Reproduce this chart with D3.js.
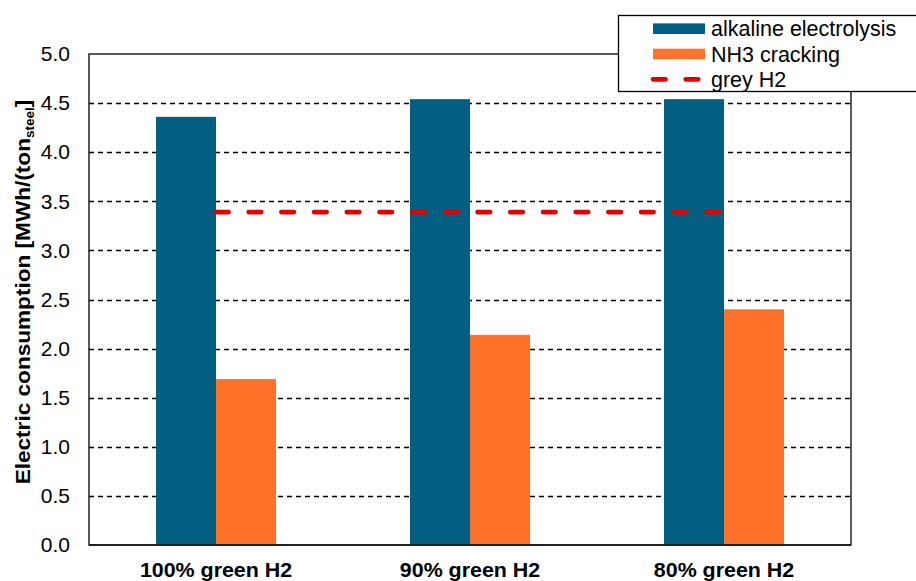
<!DOCTYPE html>
<html>
<head>
<meta charset="utf-8">
<script src="https://cdn.jsdelivr.net/npm/d3@7"></script>
<style>
  html, body { margin: 0; padding: 0; background: #fff; }
  svg { display: block; font-family: Arial, "Liberation Sans", sans-serif; }
</style>
</head>
<body>
<div id="chart"></div>
<script>
const categories = ['100% green H2', '90% green H2', '80% green H2'];
const alkalineValues = [4.36, 4.54, 4.54];
const crackingValues = [1.69, 2.14, 2.40];
const greyH2Values = [3.39, 3.39, 3.39];
const yTicks = [0, 0.5, 1, 1.5, 2, 2.5, 3, 3.5, 4, 4.5, 5];

const colors = { alkaline: '#035F82', cracking: '#FF7229', grey: '#E00000' };
const FONT = 'Arial, "Liberation Sans", sans-serif';

const width = 916;
const height = 581;
const margin = { top: 54, right: 65, bottom: 36, left: 89 };
const innerW = width - margin.left - margin.right;
const innerH = height - margin.top - margin.bottom;

const svg = d3.select('#chart')
  .append('svg')
  .attr('width', width)
  .attr('height', height);

const g = svg.append('g')
  .attr('transform', `translate(${margin.left},${margin.top})`);

const x = d3.scaleBand()
  .domain(categories)
  .range([0, innerW]);

const barW = 60;
const center = (c) => x(c) + x.bandwidth() / 2;

const y = d3.scaleLinear()
  .domain([0, 5])
  .range([innerH, 0]);

// dashed grid lines
g.append('g')
  .selectAll('line')
  .data(yTicks.filter((d) => d > 0 && d < 5))
  .enter()
  .append('line')
  .attr('x1', 0)
  .attr('x2', innerW)
  .attr('y1', (d) => Math.round(y(d)) + 0.5)
  .attr('y2', (d) => Math.round(y(d)) + 0.5)
  .attr('stroke', '#000')
  .attr('stroke-width', 1.3)
  .attr('stroke-dasharray', '5,4');

// bars
g.append('g')
  .selectAll('rect')
  .data(categories)
  .enter()
  .append('rect')
  .attr('x', (d) => center(d) - barW)
  .attr('y', (d, i) => y(alkalineValues[i]))
  .attr('width', barW)
  .attr('height', (d, i) => innerH - y(alkalineValues[i]))
  .attr('fill', colors.alkaline);

g.append('g')
  .selectAll('rect')
  .data(categories)
  .enter()
  .append('rect')
  .attr('x', (d) => center(d))
  .attr('y', (d, i) => y(crackingValues[i]))
  .attr('width', barW)
  .attr('height', (d, i) => innerH - y(crackingValues[i]))
  .attr('fill', colors.cracking);

// grey H2 dashed line
const line = d3.line()
  .x((d, i) => center(categories[i]))
  .y((d) => y(d));

g.append('path')
  .datum(greyH2Values)
  .attr('d', line)
  .attr('fill', 'none')
  .attr('stroke', colors.grey)
  .attr('stroke-width', 4.7)
  .attr('stroke-linecap', 'round')
  .attr('stroke-dasharray', '12.5,20.2');

// frame
g.append('rect')
  .attr('x', 0)
  .attr('y', 0)
  .attr('width', innerW)
  .attr('height', innerH)
  .attr('fill', 'none')
  .attr('stroke', '#000')
  .attr('stroke-width', 1.3);

g.append('line')
  .attr('x1', 0)
  .attr('x2', innerW)
  .attr('y1', innerH)
  .attr('y2', innerH)
  .attr('stroke', '#222')
  .attr('stroke-width', 2);

// y axis
const yAxis = g.append('g')
  .call(d3.axisLeft(y).tickValues(yTicks).tickFormat(d3.format('.1f')).tickSize(0).tickPadding(19));
yAxis.select('.domain').remove();
yAxis.selectAll('text')
  .attr('font-size', 21)
  .attr('font-family', FONT)
  .attr('fill', '#000');

// x axis labels
const xAxis = g.append('g')
  .attr('transform', `translate(0,${innerH})`)
  .call(d3.axisBottom(x).tickSize(0).tickPadding(0));
xAxis.select('.domain').remove();
xAxis.selectAll('text')
  .attr('dy', null)
  .attr('y', 32)
  .attr('font-size', 20)
  .attr('font-weight', 'bold')
  .attr('font-family', FONT)
  .attr('fill', '#000')
  .each(function () {
    const len = this.getComputedTextLength();
    d3.select(this)
      .attr('textLength', len * 1.07)
      .attr('lengthAdjust', 'spacingAndGlyphs');
  });

// y axis title
const title = svg.append('text')
  .attr('font-size', 20)
  .attr('font-weight', 'bold')
  .attr('font-family', FONT)
  .attr('text-anchor', 'middle')
  .attr('fill', '#000');
title.append('tspan').text('Electric consumption [MWh/(ton');
title.append('tspan').attr('font-size', 12).attr('dy', 4).text('steel');
title.append('tspan').attr('dy', -4).text(']');
const titleLen = title.node().getComputedTextLength();
title.attr('transform', `translate(30,292) rotate(-90) scale(${385 / titleLen},1)`);

// legend
const legend = svg.append('g').attr('transform', 'translate(618,15)');
legend.append('rect')
  .attr('x', 0.5)
  .attr('y', 0.5)
  .attr('width', 300)
  .attr('height', 76)
  .attr('fill', '#fff')
  .attr('stroke', '#000')
  .attr('stroke-width', 1.3);

const legendItems = [
  { label: 'alkaline electrolysis', type: 'rect', color: colors.alkaline },
  { label: 'NH3 cracking', type: 'rect', color: colors.cracking },
  { label: 'grey H2', type: 'line', color: colors.grey },
];

legendItems.forEach((item, i) => {
  const cy = 13.7 + i * 25.3;
  if (item.type === 'rect') {
    legend.append('rect')
      .attr('x', 35)
      .attr('y', cy - 5.3)
      .attr('width', 52)
      .attr('height', 10.6)
      .attr('fill', item.color);
  } else {
    legend.append('line')
      .attr('x1', 35)
      .attr('x2', 80.5)
      .attr('y1', cy)
      .attr('y2', cy)
      .attr('stroke', item.color)
      .attr('stroke-width', 4.7)
      .attr('stroke-linecap', 'round')
      .attr('stroke-dasharray', '12.5,20.2');
  }
  legend.append('text')
    .attr('x', 93)
    .attr('y', cy + 7.5)
    .attr('font-size', 21.5)
    .attr('font-family', FONT)
    .attr('fill', '#000')
    .text(item.label);
});
</script>
</body>
</html>
